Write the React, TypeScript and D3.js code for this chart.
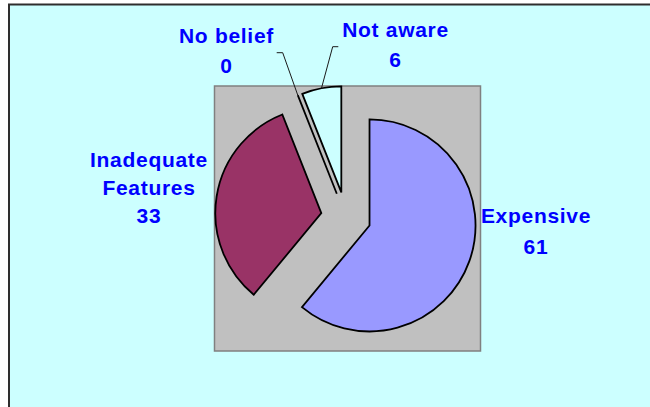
import React from "react";
import { pie, arc, PieArcDatum } from "d3";

// chart data
const categories = ["Expensive", "Inadequate\nFeatures", "No belief", "Not aware"];
const values = [61, 33, 0, 6];
const sliceColors = ["#9999FF", "#993366", "#FFFFCC", "#CCFFFF"];

// label placement (first baseline, line pitch) and leader knees
const labelLayout = [
  { x: 536, y: 222.5, pitch: 31, knee: null },
  { x: 149, y: 166.7, pitch: 28.3, knee: null },
  { x: 226.5, y: 43.3, pitch: 29.4, knee: [276.7, 282.7, 52.7] },
  { x: 395.5, y: 36.7, pitch: 30, knee: [338.3, 332.7, 46.7] },
];

const W = 650;
const H = 407;
const plot = { x: 214.5, y: 86, w: 266, h: 265 };
const cx = 346;
const cy = 217;
const radius = 106;
const explode = 25;

type Row = { name: string; value: number; color: string };

const rows: Row[] = categories.map((name, i) => ({
  name,
  value: values[i],
  color: sliceColors[i],
}));

const App = () => {
  const arcs = pie<Row>()
    .sort(null)
    .value((d) => d.value)
    .startAngle(0)
    .endAngle(2 * Math.PI)(rows);

  const sliceArc = arc<PieArcDatum<Row>>().innerRadius(0).outerRadius(radius);
  const edgeArc = arc<PieArcDatum<Row>>().innerRadius(radius).outerRadius(radius);

  const offset = (d: PieArcDatum<Row>) => {
    const mid = (d.startAngle + d.endAngle) / 2;
    return [Math.sin(mid) * explode, -Math.cos(mid) * explode];
  };

  return (
    <div style={{ position: "absolute", left: 0, top: 0 }}>
      <svg width={W} height={H} style={{ display: "block", background: "#fff" }}>
        <rect x={9} y={4.5} width={W + 20} height={H + 20} fill="#CCFFFF" stroke="#2e2e2e" strokeWidth={2} />
        <rect x={plot.x} y={plot.y} width={plot.w} height={plot.h} fill="#C0C0C0" stroke="#808080" strokeWidth={1.5} />

        <g transform={`translate(${cx},${cy})`}>
          {arcs.map((d, i) => {
            const [ox, oy] = offset(d);
            return (
              <path
                key={i}
                d={sliceArc(d) || ""}
                transform={`translate(${ox},${oy})`}
                fill={d.data.color}
                stroke="#000"
                strokeWidth={1.8}
                strokeLinejoin="miter"
              />
            );
          })}
        </g>

        {arcs.map((d, i) => {
          const k = labelLayout[i].knee;
          if (!k) return null;
          const [ox, oy] = offset(d);
          const [ex, ey] = edgeArc.centroid(d);
          const pts = [
            [k[0], k[2]],
            [k[1], k[2]],
            [cx + ox + ex, cy + oy + ey],
          ];
          return (
            <polyline
              key={`l${i}`}
              points={pts.map((p) => p.join(",")).join(" ")}
              fill="none"
              stroke="#1a1a1a"
              strokeWidth={1}
            />
          );
        })}

        {rows.map((r, i) => {
          const L = labelLayout[i];
          const lines = [...r.name.split("\n"), String(r.value)];
          return (
            <text
              key={`t${i}`}
              textAnchor="middle"
              fill="#0000FF"
              fontFamily="'Liberation Sans', Arial, sans-serif"
              fontWeight="bold"
              fontSize={21}
              letterSpacing={0.7}
            >
              {lines.map((ln, j) => (
                <tspan key={j} x={L.x} y={L.y + j * L.pitch}>
                  {ln}
                </tspan>
              ))}
            </text>
          );
        })}
      </svg>
    </div>
  );
};

export default App;
